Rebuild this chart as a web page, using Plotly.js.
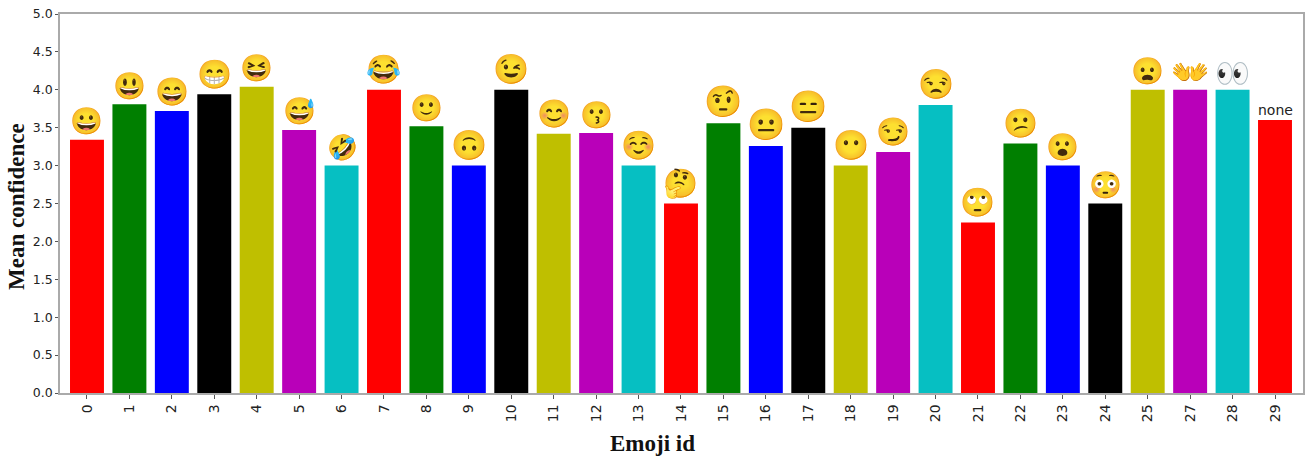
<!DOCTYPE html>
<html><head><meta charset="utf-8">
<script src="https://cdn.plot.ly/plotly-3.0.1.min.js"></script>
<style>html,body{margin:0;padding:0;background:#fff}</style></head>
<body><div id="c" style="width:1309px;height:456px"></div>
<script>
const ids=["0","1","2","3","4","5","6","7","8","9","10","11","12","13","14","15","16","17","18","19","20","21","22","23","24","25","27","28","29"];
const means=[3.34,3.81,3.72,3.94,4.04,3.47,3.0,4.0,3.52,3.0,4.0,3.42,3.43,3.0,2.5,3.56,3.26,3.5,3.0,3.18,3.8,2.25,3.29,3.0,2.5,4.0,4.0,4.0,3.6];
const labels=["😀","😃","😄","😁","😆","😅","🤣","😂","🙂","🙃","😉","😊","😗","☺️","🤔","🤨","😐","😑","😶","😏","😒","🙄","😕","😮","😳","😦","👐","👀","none"];
const ticks=["0.0","0.5","1.0","1.5","2.0","2.5","3.0","3.5","4.0","4.5","5.0"];
const palette=["#ff0000","#007f00","#0000ff","#000000","#bfbf00","#b900b9","#06bfc2"];
const emojiPx=[31,31,32,33,31,31,29,33,31,34,34,32,31,33,33,36,36,36,34,32,34,33,33,31,31,31,36,33,15];
const emojiLift=[3.5,3.5,3.5,3.5,3.5,3.5,3.5,3.5,3.5,3.5,3.5,3.5,3.5,3.5,3.5,3.5,3.5,3.5,3.5,3.5,3.5,3.5,3.5,3.5,3.5,3.5,-1,0,3];
const colors=ids.map((_,i)=>palette[i%7]);
const marks=ids.map((id,i)=>({x:i,y:means[i],xref:"x",yref:"y",text:labels[i],showarrow:false,
  xanchor:"center",yanchor:"middle",yshift:emojiPx[i]/2+emojiLift[i],
  font:{family:labels[i]==="none"?"DejaVu Sans":"Noto Color Emoji",size:labels[i]==="none"?14:emojiPx[i]/1.17,color:"#222"}}));
const titleFont={family:"Liberation Serif",size:23,color:"#111",weight:"bold"};
const axisBase={ticks:"outside",ticklen:4,tickcolor:"#555",showgrid:false,zeroline:false,showline:true,mirror:true,linecolor:"#aaa",linewidth:1.5};
Plotly.newPlot("c",[{type:"bar",x:ids,y:means,width:0.8,marker:{color:colors,line:{width:0}},hoverinfo:"skip"}],{
 width:1309,height:456,showlegend:false,paper_bgcolor:"#fff",plot_bgcolor:"#fff",
 margin:{l:60,r:6,t:14,b:63},
 xaxis:{...axisBase,type:"category",range:[-0.636,28.66],tickmode:"array",tickvals:ids,ticktext:ids,tickangle:-90,
  tickfont:{family:"DejaVu Sans",size:14,color:"#222"}},
 yaxis:{...axisBase,range:[0,5],tickmode:"array",tickvals:ticks.map(Number),ticktext:ticks,ticklen:3,
  tickfont:{family:"DejaVu Sans",size:12.5,color:"#222"}},
 annotations:[...marks,
  {xref:"paper",yref:"paper",x:(652-60)/1243,y:(393-443)/379,text:"Emoji id",showarrow:false,font:titleFont,xanchor:"center",yanchor:"middle"},
  {xref:"paper",yref:"paper",x:(16-60)/1243,y:(393-207)/379,text:"Mean confidence",textangle:-90,showarrow:false,font:titleFont,xanchor:"center",yanchor:"middle"}]
},{displayModeBar:false});
</script></body></html>
